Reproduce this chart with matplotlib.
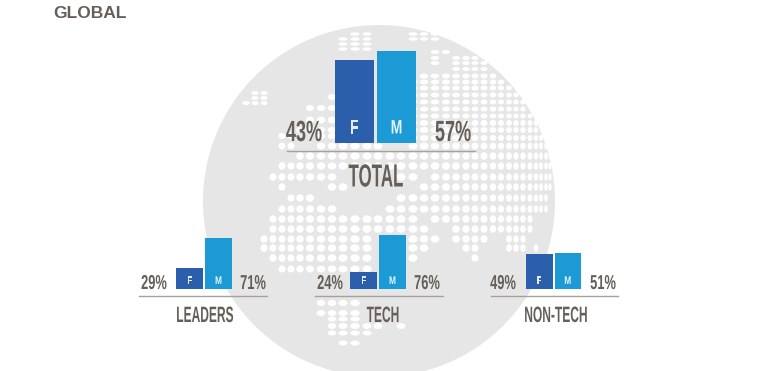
import numpy as np
import matplotlib
matplotlib.use('Agg')
import matplotlib.pyplot as plt
from matplotlib.patches import Circle, Ellipse
from matplotlib.patheffects import AbstractPathEffect
from matplotlib.transforms import Affine2D

groups = ['TOTAL', 'LEADERS', 'TECH', 'NON-TECH']
female_pct = [43, 29, 24, 49]
male_pct = [57, 71, 76, 51]
# drawn bar heights, the big group is not on the same scale as the small ones
female_height = [83, 21, 17, 35]
male_height = [92, 51, 54, 36]

# dot columns of the map, they get closer towards the edge of the globe
map_cols = [236, 246, 255, 264, 273, 282, 291, 300, 310, 321, 332, 343, 355, 367, 378, 390, 401, 413,
            424, 435, 446, 456, 466, 475, 484, 493, 501, 509, 516, 523, 530, 536, 541, 546, 550]
# (row y, dot height, land runs as x from/to)
map_rows = [
    (34, 3.5, [(355, 370), (405, 437)]),
    (39, 3.5, [(343, 370), (405, 437)]),
    (44, 3.5, [(343, 370)]),
    (49, 3.5, [(343, 372)]),
    (52, 4, [(430, 446)]),
    (58, 4, [(430, 437), (455, 480)]),
    (63, 4, [(430, 437), (455, 485)]),
    (69, 4, [(455, 490)]),
    (76, 5, [(424, 500)]),
    (82, 5, [(413, 505)]),
    (88, 5, [(413, 513)]),
    (93, 4, [(255, 264)]),
    (95, 5, [(413, 518)]),
    (98, 4, [(255, 264)]),
    (97, 6, [(323, 335)]),
    (102, 5, [(413, 523)]),
    (103, 4, [(246, 264)]),
    (108, 6, [(310, 335)]),
    (109, 5, [(413, 527)]),
    (116, 5, [(413, 530)]),
    (120, 7, [(310, 335)]),
    (123, 6, [(413, 536)]),
    (130, 6, [(300, 335), (413, 536)]),
    (138, 6, [(413, 541)]),
    (136, 6, [(282, 292), (320, 335)]),
    (146, 7, [(282, 292), (321, 378), (413, 546)]),
    (156, 7.5, [(300, 410), (413, 550)]),
    (166, 7.5, [(282, 424), (430, 550)]),
    (177, 7.5, [(272, 332), (400, 413), (430, 550)]),
    (187, 7.5, [(282, 282), (332, 343), (424, 550)]),
    (198, 7.5, [(290, 310), (400, 546)]),
    (209, 7.5, [(282, 332), (390, 546)]),
    (219, 7.5, [(272, 390), (401, 413), (435, 530)]),
    (229, 7.5, [(272, 424), (456, 530)]),
    (239, 7.5, [(264, 373), (413, 435), (456, 484), (509, 523)]),
    (248, 7.5, [(264, 373), (413, 424), (466, 475), (509, 523), (536, 536)]),
    (258, 7.5, [(273, 373), (413, 413), (475, 475)]),
    (269, 7, [(282, 373)]),
    (303, 6.5, [(321, 355)]),
    (313, 6, [(321, 355), (410, 410)]),
    (319, 5, [(332, 355), (410, 410)]),
    (326, 6, [(332, 378), (401, 410)]),
    (333, 5, [(332, 367)]),
    (343, 5, [(343, 355)]),
]

grey_text = '#665f59'
blue_f = '#2b5fac'
blue_m = '#1b9ad6'


class Squeeze(AbstractPathEffect):
    # condensed look, the text stays real text
    def __init__(self, sx, cx):
        self.sx = sx
        self.cx = cx

    def draw_path(self, renderer, gc, tpath, affine, rgbFace=None):
        a = affine + Affine2D().translate(-self.cx, 0).scale(self.sx, 1).translate(self.cx, 0)
        renderer.draw_path(gc, tpath, a, rgbFace)


def label(ax, x, y, s, size, sx, color=grey_text, zorder=6):
    t = ax.text(x, y, s, fontsize=size, color=color, ha='center', va='center_baseline',
                family='Liberation Sans', weight='bold', zorder=zorder)
    t.set_path_effects([Squeeze(sx, x)])
    return t


fig = plt.figure(figsize=(7.58, 3.71), dpi=100, facecolor='white')
ax = fig.add_axes([0, 0, 1, 1])
ax.set_xlim(0, 758)
ax.set_ylim(371, 0)
ax.axis('off')

ax.add_patch(Circle((379, 201), 176, fc='#e6e6e6', ec='none', zorder=1))

gaps = np.gradient(map_cols)
for y, h, runs in map_rows:
    for x0, x1 in runs:
        for x, g in zip(map_cols, gaps):
            if x0 <= x <= x1:
                ax.add_patch(Ellipse((x, y), 0.78 * g, h, fc='white', ec='none', zorder=2))

# layout of the groups: left of F bar, bar width, gap, baseline, rule, labels
big = dict(pct_y=130, name_y=175, pct_size=21, pct_sx=0.62, name_size=23, name_sx=0.53, fm_size=14,
           fm_y=127, f_sx=0.65, m_sx=0.72)
small = dict(pct_y=281.5, name_y=314, pct_size=14.5, pct_sx=0.64, name_size=16, name_sx=0.54, fm_size=8,
             fm_y=280, f_sx=0.7, m_sx=0.75)
layout = [
    dict(big, x=335, w=39, gap=3, base=143, rule=(287, 475), rule_y=150.5, pct_x=(304, 453), name_x=376),
    dict(small, x=176, w=27, gap=2, base=289, rule=(139, 267), rule_y=296, pct_x=(154, 253), name_x=205),
    dict(small, x=350, w=27, gap=2, base=289, rule=(315, 443), rule_y=296, pct_x=(330, 427), name_x=383),
    dict(small, x=526, w=26.5, gap=2, base=289, rule=(491, 618), rule_y=296, pct_x=(503, 603), name_x=556),
]

for i, name in enumerate(groups):
    p = layout[i]
    xf = p['x'] + p['w'] / 2
    xm = xf + p['w'] + p['gap']
    ax.bar(xf, -female_height[i], p['w'], bottom=p['base'], color=blue_f, zorder=3)
    ax.bar(xm, -male_height[i], p['w'], bottom=p['base'], color=blue_m, zorder=3)
    label(ax, xf, p['fm_y'], 'F', p['fm_size'], p['f_sx'], color='#e4ebf6')
    label(ax, xm, p['fm_y'], 'M', p['fm_size'], p['m_sx'], color='#e4f3fb')
    ax.plot(p['rule'], (p['rule_y'], p['rule_y']), color='#a5a19c', lw=1, zorder=4)
    label(ax, p['pct_x'][0], p['pct_y'], '%d%%' % female_pct[i], p['pct_size'], p['pct_sx'])
    label(ax, p['pct_x'][1], p['pct_y'], '%d%%' % male_pct[i], p['pct_size'], p['pct_sx'])
    label(ax, p['name_x'], p['name_y'], name, p['name_size'], p['name_sx'])

ax.text(53, 12, 'GLOBAL', fontsize=12.5, color=grey_text, family='Liberation Sans', weight='bold',
        ha='left', va='center_baseline')

fig.savefig('out.png', dpi=100)
